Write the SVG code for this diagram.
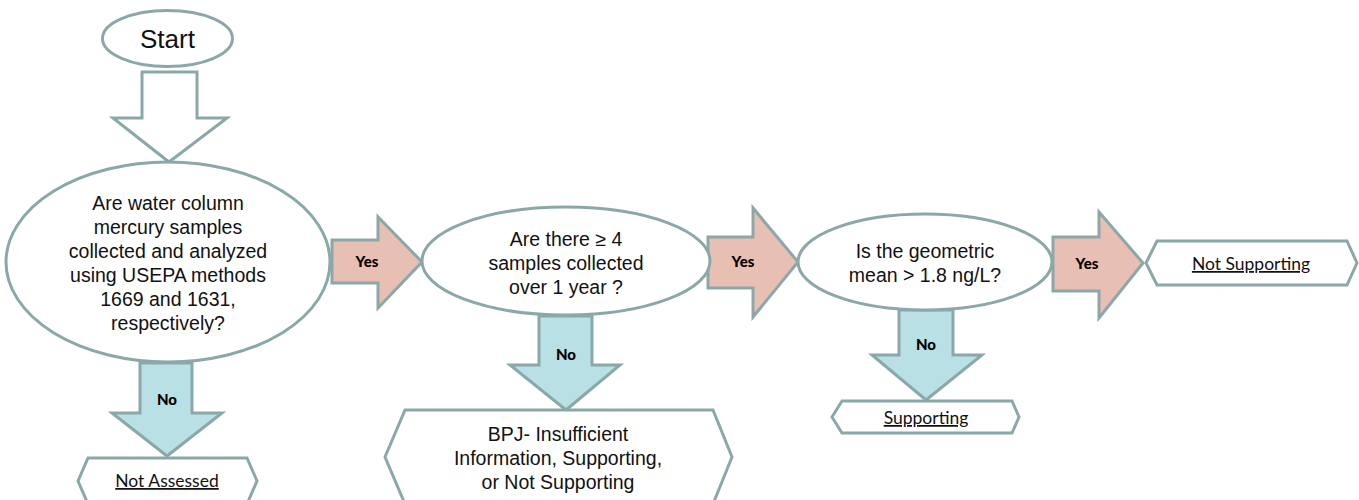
<svg xmlns="http://www.w3.org/2000/svg" width="1359" height="500" viewBox="0 0 1359 500">
<style>
.shape{fill:#ffffff;stroke:#8ba8a9;stroke-width:3}
.yes{fill:#e8bfb3;stroke:#8ba8a9;stroke-width:3;stroke-linejoin:miter}
.no{fill:#b9e0e4;stroke:#8ba8a9;stroke-width:3;stroke-linejoin:miter}
.down{fill:#ffffff;stroke:#8ba8a9;stroke-width:3;stroke-linejoin:miter}
.q{font-family:"Liberation Sans",Arial,sans-serif;font-size:19.5px;fill:#111;text-anchor:middle}
.lbl{font-family:Lato,"Liberation Sans",sans-serif;font-weight:900;font-size:15px;fill:#000;text-anchor:middle}
.out{font-family:Lato,"Liberation Sans",sans-serif;font-size:17.5px;fill:#111;text-anchor:middle;text-decoration:underline}
</style>
<rect width="1359" height="500" fill="#ffffff"/>
<g id="connectors">
  <polygon class="down" points="142,72 197,72 197,118 227,118 169,162 113,118 142,118"/>
  <g id="yes1"><polygon class="yes" points="332,240 378,240 378,217 422,262 378,308 378,283 332,283"/><text class="lbl" x="367" y="267">Yes</text></g>
  <g id="yes2"><polygon class="yes" points="708,237 753,237 753,208 798,262 753,317 753,288 708,288"/><text class="lbl" x="743" y="267">Yes</text></g>
  <g id="yes3"><polygon class="yes" points="1053,237 1099,237 1099,212 1143,263 1099,318 1099,291 1053,291"/><text class="lbl" x="1087" y="269">Yes</text></g>
  <g id="no1"><polygon class="no" points="140,363 192,363 192,413 222,413 167,456 112,413 140,413"/><text class="lbl" x="167" y="405">No</text></g>
  <g id="no2"><polygon class="no" points="539,316 592,316 592,365 620,365 566,410 510,365 539,365"/><text class="lbl" x="566" y="360">No</text></g>
  <g id="no3"><polygon class="no" points="899,310 953,310 953,355 982,355 926,400 872,355 899,355"/><text class="lbl" x="926" y="350">No</text></g>
</g>
<g id="start">
  <ellipse class="shape" cx="167.5" cy="38.5" rx="65" ry="28"/>
  <text x="167.5" y="48" font-family="Liberation Sans, Arial, sans-serif" font-size="26" fill="#111" text-anchor="middle">Start</text>
</g>
<g id="q1">
  <ellipse class="shape" cx="168" cy="262" rx="162" ry="100"/>
  <text class="q"><tspan x="168" y="210">Are water column</tspan><tspan x="168" y="234">mercury samples</tspan><tspan x="168" y="258">collected and analyzed</tspan><tspan x="168" y="282">using USEPA methods</tspan><tspan x="168" y="306">1669 and 1631,</tspan><tspan x="168" y="330">respectively?</tspan></text>
</g>
<g id="q2">
  <ellipse class="shape" cx="566" cy="261" rx="144" ry="54"/>
  <text class="q"><tspan x="566" y="246">Are there ≥ 4</tspan><tspan x="566" y="270">samples collected</tspan><tspan x="566" y="294">over 1 year ?</tspan></text>
</g>
<g id="q3">
  <ellipse class="shape" cx="925" cy="262" rx="127" ry="48"/>
  <text class="q"><tspan x="925" y="258">Is the geometric</tspan><tspan x="925" y="282">mean &gt; 1.8 ng/L?</tspan></text>
</g>
<g id="notSupporting">
  <polygon class="shape" points="1146,263 1157,241 1347,241 1357,263 1347,285 1157,285"/>
  <text class="out" x="1251" y="270">Not Supporting</text>
</g>
<g id="notAssessed">
  <polygon class="shape" points="78,481 88,458 247,458 257,481 247,504 88,504"/>
  <text class="out" x="167" y="487">Not Assessed</text>
</g>
<g id="bpj">
  <polygon class="shape" points="385,457 405,410 713,410 732,457 713,504 405,504"/>
  <text class="q"><tspan x="558" y="441">BPJ- Insufficient</tspan><tspan x="558" y="465">Information, Supporting,</tspan><tspan x="558" y="489">or Not Supporting</tspan></text>
</g>
<g id="supporting">
  <polygon class="shape" points="832,417 842,401 1012,401 1019,417 1012,433 842,433"/>
  <text class="out" x="926" y="424">Supporting</text>
</g>
</svg>
